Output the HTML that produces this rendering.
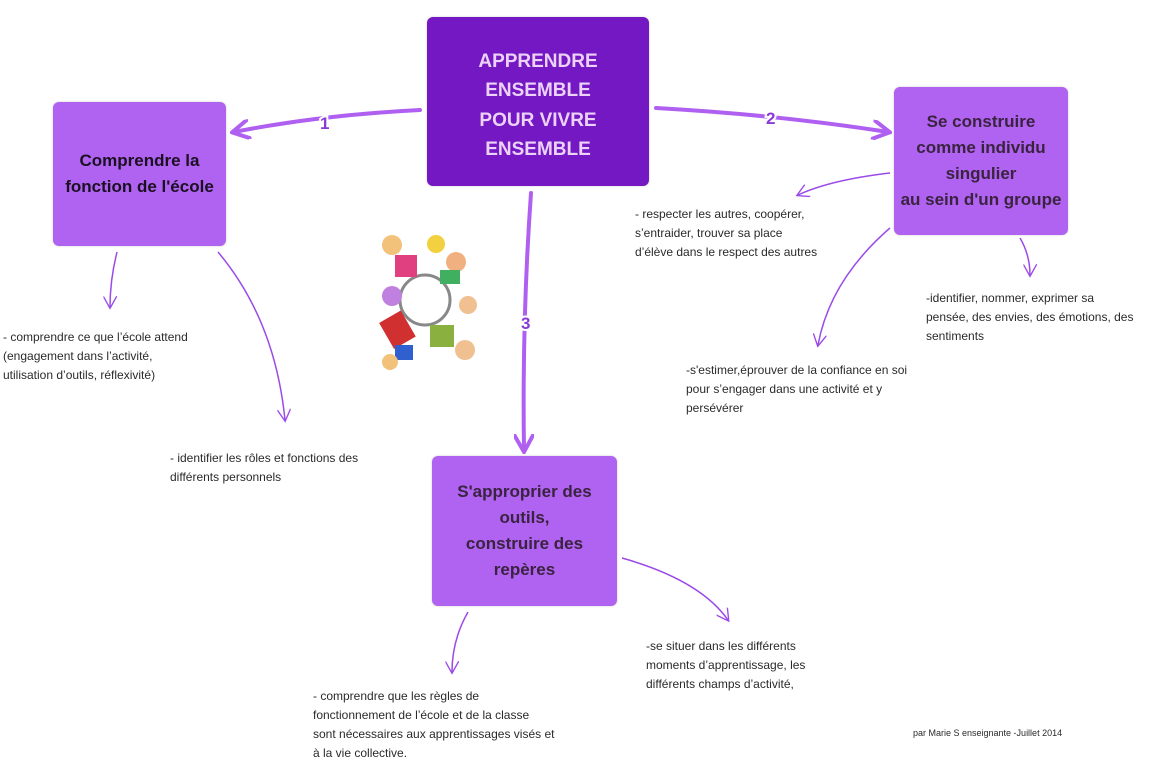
<!DOCTYPE html>
<html><head><meta charset="utf-8"><style>
body{margin:0;width:1149px;height:767px;background:#fff;position:relative;overflow:hidden;font-family:"Liberation Sans",sans-serif}
.box{position:absolute;border-radius:6px;display:flex;align-items:center;justify-content:center;text-align:center;font-weight:bold;box-shadow:0 0 2px #ccc}
.n{background:#b062f0;color:#1a1022;font-size:17px;line-height:26px}
.t{position:absolute;font-size:12px;line-height:19px;color:#2a2a2a;white-space:nowrap}
</style></head><body>
<svg width="1149" height="767" style="position:absolute;left:0;top:0">
<defs>
<marker id="a" viewBox="0 0 10 10" refX="8" refY="5" markerWidth="5" markerHeight="5" orient="auto"><path d="M0,0L9,5L0,10" fill="none" stroke="#b060f0" stroke-width="2"/></marker>
<marker id="b" viewBox="0 0 10 10" refX="8" refY="5" markerWidth="9" markerHeight="9" orient="auto"><path d="M0,0L9,5L0,10" fill="none" stroke="#9b4ae8" stroke-width="1"/></marker>
</defs>
<g fill="none" stroke="#b060f0" stroke-width="4" stroke-linecap="round" marker-end="url(#a)">
<path d="M420,110 Q320,115 234,132"/>
<path d="M656,108 Q780,115 888,132"/>
<path d="M531,193 Q522,320 524,450"/>
</g>
<g fill="none" stroke="#9b4ae8" stroke-width="1.5" marker-end="url(#b)">
<path d="M117,252 Q110,280 110,307"/>
<path d="M218,252 Q275,320 285,420"/>
<path d="M890,173 Q830,180 798,195"/>
<path d="M890,228 Q830,280 818,345"/>
<path d="M1020,238 Q1030,255 1030,275"/>
<path d="M468,612 Q452,640 452,672"/>
<path d="M622,558 Q700,580 728,620"/>
</g>
<g font-family="Liberation Sans" font-weight="bold" font-size="17" fill="#8a3ad8" stroke="#fff" stroke-width="4" paint-order="stroke">
<text x="320" y="129">1</text><text x="766" y="124">2</text><text x="521" y="329">3</text>
</g>
<g>
<circle cx="425" cy="300" r="25" fill="none" stroke="#888" stroke-width="3"/>
<circle cx="392" cy="245" r="10" fill="#f3c27a"/><rect x="395" y="255" width="22" height="22" fill="#e04080"/>
<circle cx="436" cy="244" r="9" fill="#f3d040"/><circle cx="456" cy="262" r="10" fill="#f0b080"/>
<rect x="440" y="270" width="20" height="14" fill="#40b060"/>
<circle cx="392" cy="296" r="10" fill="#c080e0"/><circle cx="468" cy="305" r="9" fill="#f0c090"/>
<rect x="385" y="315" width="25" height="30" fill="#d03030" transform="rotate(-30 397 330)"/>
<rect x="430" y="325" width="24" height="22" fill="#8ab040"/><circle cx="465" cy="350" r="10" fill="#f0c090"/>
<rect x="395" y="345" width="18" height="15" fill="#3060d0"/><circle cx="390" cy="362" r="8" fill="#f3c27a"/>
</g>
</svg>
<div class="box" style="left:427px;top:17px;width:222px;height:169px;background:#7318c2;color:#ecd2f8;font-size:19px;line-height:29.5px;padding-top:8px;box-sizing:border-box">APPRENDRE<br>ENSEMBLE<br>POUR VIVRE<br>ENSEMBLE</div>
<div class="box n" style="left:53px;top:102px;width:173px;height:144px">Comprendre la<br>fonction de l'école</div>
<div class="box n" style="left:894px;top:87px;width:174px;height:148px;color:#3a2340">Se construire<br>comme individu<br>singulier<br>au sein d'un groupe</div>
<div class="box n" style="left:432px;top:456px;width:185px;height:150px;color:#3a2340">S'approprier des<br>outils,<br>construire des<br>repères</div>
<div class="t" style="left:3px;top:328px">- comprendre ce que l’école attend<br>(engagement dans l’activité,<br>utilisation d’outils, réflexivité)</div>
<div class="t" style="left:170px;top:449px">- identifier les rôles et fonctions des<br>différents personnels</div>
<div class="t" style="left:635px;top:205px">- respecter les autres, coopérer,<br>s’entraider, trouver sa place<br>d’élève dans le respect des autres</div>
<div class="t" style="left:926px;top:289px">-identifier, nommer, exprimer sa<br>pensée, des envies, des émotions, des<br>sentiments</div>
<div class="t" style="left:686px;top:361px">-s'estimer,éprouver de la confiance en soi<br>pour s’engager dans une activité et y<br>persévérer</div>
<div class="t" style="left:646px;top:637px">-se situer dans les différents<br>moments d’apprentissage, les<br>différents champs d’activité,</div>
<div class="t" style="left:313px;top:687px">- comprendre que les règles de<br>fonctionnement de l’école et de la classe<br>sont nécessaires aux apprentissages visés et<br>à la vie collective.</div>
<div class="t" style="left:913px;top:724px;font-size:9px">par Marie S enseignante -Juillet 2014</div>
</body></html>
